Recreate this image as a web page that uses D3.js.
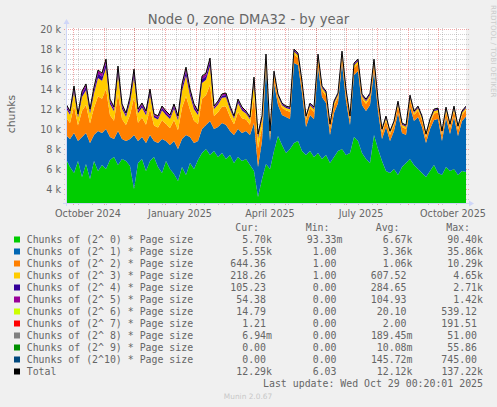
<!DOCTYPE html>
<html>
<head>
<meta charset="utf-8">
<script src="https://cdn.jsdelivr.net/npm/d3@7"></script>
<style>
body { margin: 0; background: #F0F0F0; }
svg text { font-family: "DejaVu Sans", sans-serif; fill: #666666; }
svg text.mono { font-family: "DejaVu Sans Mono", monospace; font-size: 9.9px; white-space: pre; }
</style>
</head>
<body>
<svg width="497" height="407"></svg>
<script>
const firstDay = new Date(2024, 8, 24)
const stepDays = 4
const lastUpdate = "Wed Oct 29 00:20:01 2025"

// one value every 4 days
const order0 = [7000,6200,5600,6800,5200,6500,5000,6800,5800,6400,
    6000,6900,7200,6400,7000,6800,6300,4000,6600,7000,
    5800,6800,7200,6200,5600,6800,
    6000,5500,4800,6200,5400,6600,6000,6900,7600,8000,
    7400,7800,7200,7600,7000,7400,6600,7200,6800,7000,
    6400,5800,3200,5000,
    6500,6000,7800,9300,8400,7600,8000,8600,8800,7800,
    7400,7800,7200,7600,7000,7400,6600,7200,7800,8000,
    7400,7600,9200,8800,7600,7000,
    6600,9400,8000,6800,5800,5600,6000,5400,6200,6600,
    7000,6400,6000,5600,5200,5800,6400,5600,5400,6200,
    5800,6000,5400,5800,5700]
const order1 = [2400,2800,4000,2000,4000,3100,3600,2600,4000,3200,
    4000,2300,1800,3400,2000,2000,2700,5400,2200,2200,
    2800,2600,1600,2400,3400,2000,
    2400,3300,3200,2800,4000,2600,2600,1900,2400,2400,
    3400,2200,3000,3000,3400,2400,2800,2800,2800,2800,
    3000,4800,3000,3800,
    9700,2800,6800,3100,3000,3600,3000,8000,7600,5800,
    2800,3600,3800,8600,6200,5200,2800,4400,4800,8600,
    5400,2800,6200,7000,4800,4800,
    5800,6400,3800,2200,4400,3200,3800,6200,3400,2800,
    5200,4400,5200,4600,3400,4200,4500,5400,3400,4900,
    3700,5200,3900,5000,5550]
const order2 = [1765,1595,2680,1540,2620,2795,1940,2735,3475,3420,
    3990,2165,1825,3705,1995,1595,2395,3760,1825,1940,
    1825,2620,1540,1540,1880,1710,
    1710,2110,1880,3135,3875,2735,2225,1710,3020,2965,
    3590,1310,1480,1655,1825,1425,1085,1710,1480,1140,
    1025,2620,1880,1425,
    780,600,720,660,720,660,720,840,720,720,
    660,720,720,780,660,720,660,720,600,720,
    720,540,720,720,660,720,
    720,720,720,600,660,600,600,720,600,600,
    720,600,660,660,540,600,660,660,600,660,
    600,660,600,600,644]
const order3 = [930,840,1410,810,1380,1470,1020,1440,1830,1800,
    2100,1140,960,1950,1050,840,1260,1980,960,1020,
    960,1380,810,810,990,900,
    900,1110,990,1650,2040,1440,1170,900,1590,1560,
    1890,690,780,870,960,750,570,900,780,600,
    540,1380,990,750,
    290,220,260,240,260,240,260,310,260,260,
    240,260,260,290,240,260,240,260,220,260,
    260,200,260,260,240,260,
    260,260,260,220,240,220,220,260,220,220,
    260,220,240,240,200,220,240,240,220,240,
    220,240,220,220,218]
const order4 = [215,195,330,190,320,345,240,335,425,420,
    490,265,225,455,245,195,295,460,225,240,
    225,320,190,190,230,210,
    210,260,230,385,475,335,275,210,370,365,
    440,160,180,205,225,175,135,210,180,140,
    125,320,230,175,
    140,110,130,120,130,120,130,150,130,130,
    120,130,130,140,120,130,120,130,110,130,
    130,100,130,130,120,130,
    130,130,130,110,120,110,110,130,110,110,
    130,110,120,120,100,110,120,120,110,120,
    110,120,110,110,105]
const order5 = [160,140,240,140,230,250,170,240,310,300,
    350,190,160,330,180,140,210,330,160,170,
    160,230,140,140,170,150,
    150,190,170,280,340,240,200,150,270,260,
    320,120,130,150,160,130,100,150,130,100,
    90,230,170,130,
    65,50,60,55,60,55,60,70,60,60,
    55,60,60,65,55,60,55,60,50,60,
    60,45,60,60,55,60,
    60,60,60,50,55,50,50,60,50,50,
    60,50,55,55,45,50,55,55,50,55,
    50,55,50,50,54]
const order6 = [30,26,40,24,38,42,30,40,50,48,
    55,32,28,52,30,26,36,52,28,30,
    28,38,24,24,28,26,
    26,30,28,44,52,40,32,26,44,42,
    50,20,22,24,26,22,18,26,22,18,
    16,38,28,22,
    18,14,16,15,16,15,16,18,16,16,
    15,16,16,18,15,16,15,16,14,16,
    16,12,16,16,15,16,
    16,16,16,14,15,14,14,16,14,14,
    16,14,15,15,12,14,15,15,14,15,
    14,15,14,14,15]
const order7 = [3,2,4,2,4,4,3,4,5,5,
    6,3,2,5,3,2,3,5,2,3,
    2,4,2,2,3,2,
    2,3,2,4,5,4,3,2,4,4,
    5,2,2,2,3,2,1,2,2,1,
    1,4,3,2,
    1,1,1,1,1,1,1,2,1,1,
    1,1,1,2,1,1,1,1,1,1,
    1,1,1,1,1,1,
    1,1,1,1,1,1,1,1,1,1,
    1,1,1,1,1,1,1,1,1,1,
    1,1,1,1,1]
const order8 = [0,0,0,0,0,0,0,0,0,0, 0,0,0,0,0,0,0,0,0,0, 0,0,0,0,0,0,0,0,0,0,
    0,0,0,0,0,0,0,0,0,0, 0,0,0,0,0,0,0,0,0,0, 0,0,0,0,0,0,0,0,0,0,
    0,0,0,0,0,0,0,0,0,0, 0,0,0,0,0,0,0,0,0,0, 0,0,0,0,0,0,0,0,0,0,
    0,0,0,0,0,0,0,0,0,0, 0]
const order9 = [0,0,0,0,0,0,0,0,0,0, 0,0,0,0,0,0,0,0,0,0, 0,0,0,0,0,0,0,0,0,0,
    0,0,0,0,0,0,0,0,0,0, 0,0,0,0,0,0,0,0,0,0, 0,0,0,0,0,0,0,0,0,0,
    0,0,0,0,0,0,0,0,0,0, 0,0,0,0,0,0,0,0,0,0, 0,0,0,0,0,0,0,0,0,0,
    0,0,0,0,0,0,0,0,0,0, 0]
const order10 = [0,0,0,0,0,0,0,0,0,0, 0,0,0,0,0,0,0,0,0,0, 0,0,0,0,0,0,0,0,0,0,
    0,0,0,0,0,0,0,0,0,0, 0,0,0,0,0,0,0,0,0,0, 0,0,0,0,0,0,0,0,0,0,
    0,0,0,0,0,0,0,0,0,0, 0,0,0,0,0,0,0,0,0,0, 0,0,0,0,0,0,0,0,0,0,
    0,0,0,0,0,0,0,0,0,0, 0]

const seriesNames = ["Chunks of (2^ 0) * Page size", "Chunks of (2^ 1) * Page size",
    "Chunks of (2^ 2) * Page size", "Chunks of (2^ 3) * Page size",
    "Chunks of (2^ 4) * Page size", "Chunks of (2^ 5) * Page size",
    "Chunks of (2^ 6) * Page size", "Chunks of (2^ 7) * Page size",
    "Chunks of (2^ 8) * Page size", "Chunks of (2^ 9) * Page size",
    "Chunks of (2^10) * Page size", "Total"]
const seriesColors = ["#00CC00", "#0066B3", "#FF8000", "#FFCC00", "#330099", "#990099",
    "#CCFF00", "#FF0000", "#808080", "#008F00", "#00487D", "#000000"]
const curText = ["5.70k", "5.55k", "644.36", "218.26", "105.23", "54.38", "14.79", "1.21", "6.94m", "0.00", "0.00", "12.29k"]
const minText = ["93.33m", "1.00", "1.00", "1.00", "0.00", "0.00", "0.00", "0.00", "0.00", "0.00", "0.00", "6.03"]
const avgText = ["6.67k", "3.36k", "1.06k", "607.52", "284.65", "104.93", "20.10", "2.00", "189.45m", "10.08m", "145.72m", "12.12k"]
const maxText = ["90.40k", "35.86k", "10.29k", "4.65k", "2.71k", "1.42k", "539.12", "191.51", "51.00", "55.86", "745.00", "137.22k"]
const yTickValues = [4000, 6000, 8000, 10000, 12000, 14000, 16000, 18000, 20000]

const values = [order0, order1, order2, order3, order4, order5, order6, order7, order8, order9, order10]
const keys = values.map((d, i) => "s" + i)
const table = order0.map((d, i) => {
    const row = {date: d3.timeDay.offset(firstDay, i * stepDays)}
    values.forEach((arr, j) => row["s" + j] = arr[i])
    return row
})
const lastDay = table[table.length - 1].date

const x = d3.scaleTime().domain([firstDay, lastDay]).range([66, 466])
const y = d3.scaleLinear().domain([2600, 20100]).range([203, 28])

const svg = d3.select("svg")

svg.append("defs").append("clipPath")
    .attr("id", "plot")
    .append("rect")
    .attr("x", 67).attr("y", 28).attr("width", 399).attr("height", 175)

svg.append("rect")
    .attr("x", 67).attr("y", 28).attr("width", 399).attr("height", 175)
    .attr("fill", "#FFFFFF")

// grid
const gridG = svg.append("g").attr("shape-rendering", "crispEdges")
const minorY = d3.range(3000, 20001, 500).filter(v => v % 2000 != 0)
gridG.selectAll("line.minorY")
    .data(minorY)
    .enter()
    .append("line")
    .attr("x1", 64).attr("x2", 469)
    .attr("y1", d => Math.round(y(d)) + 0.5)
    .attr("y2", d => Math.round(y(d)) + 0.5)
    .style("stroke", "rgba(120,120,120,0.35)")
    .style("stroke-dasharray", "1,1")

const sundayRef = new Date(2025, 7, 10)
const minorX = d3.timeDay.range(firstDay, lastDay)
    .filter(d => ((d3.timeDay.count(sundayRef, d) % 14) + 14) % 14 == 0)
gridG.selectAll("line.minorX")
    .data(minorX)
    .enter()
    .append("line")
    .attr("y1", 28).attr("y2", 206)
    .attr("x1", d => Math.round(x(d)) + 0.5)
    .attr("x2", d => Math.round(x(d)) + 0.5)
    .style("stroke", "rgba(120,120,120,0.35)")
    .style("stroke-dasharray", "1,1")

gridG.selectAll("line.majorY")
    .data(yTickValues)
    .enter()
    .append("line")
    .attr("x1", 64).attr("x2", 469)
    .attr("y1", d => Math.round(y(d)) + 0.5)
    .attr("y2", d => Math.round(y(d)) + 0.5)
    .style("stroke", "rgba(225,60,60,0.45)")
    .style("stroke-dasharray", "1,1")

const months = d3.timeMonth.range(firstDay, lastDay)
gridG.selectAll("line.majorX")
    .data(months)
    .enter()
    .append("line")
    .attr("y1", 28).attr("y2", 206)
    .attr("x1", d => Math.round(x(d)) + 0.5)
    .attr("x2", d => Math.round(x(d)) + 0.5)
    .style("stroke", "rgba(225,60,60,0.45)")
    .style("stroke-dasharray", "1,1")

const stacked = d3.stack().keys(keys)(table)

const area = d3.area()
    .x(d => x(d.data.date))
    .y0(d => y(d[0]))
    .y1(d => y(d[1]))

const plotG = svg.append("g").attr("clip-path", "url(#plot)")

plotG.selectAll("path.layer")
    .data(stacked)
    .enter()
    .append("path")
    .attr("class", "layer")
    .attr("d", area)
    .attr("fill", (d, i) => seriesColors[i])

// total line on top of the stack
const line = d3.line()
    .x(d => x(d.data.date))
    .y(d => y(d[1]))

plotG.append("path")
    .datum(stacked[stacked.length - 1])
    .attr("d", line)
    .attr("fill", "none")
    .style("stroke", "#000000")
    .style("stroke-width", 1)

// axes with arrows
svg.append("line")
    .attr("x1", 63).attr("x2", 469).attr("y1", 203.5).attr("y2", 203.5)
    .style("stroke", "#CFD6F8")
svg.append("path")
    .attr("d", "M469,200.5L474,203.5L469,206.5Z")
    .attr("fill", "#CFD6F8")
svg.append("line")
    .attr("x1", 66.5).attr("x2", 66.5).attr("y1", 206).attr("y2", 24)
    .style("stroke", "#CFD6F8")
svg.append("path")
    .attr("d", "M63.5,24L66.5,19L69.5,24Z")
    .attr("fill", "#CFD6F8")

svg.selectAll("text.ytick")
    .data(yTickValues)
    .enter()
    .append("text")
    .attr("class", "ytick")
    .attr("x", 61)
    .attr("y", d => Math.round(y(d)) + 3.8)
    .style("text-anchor", "end")
    .style("font-size", "9.6px")
    .text(d => (d / 1000) + " k")

const labelMonths = d3.timeMonth.every(3).range(firstDay, lastDay)
svg.selectAll("text.xtick")
    .data(labelMonths)
    .enter()
    .append("text")
    .attr("class", "xtick")
    .attr("x", d => x(d3.timeDay.offset(d, 15)))
    .attr("y", 216.5)
    .style("text-anchor", "middle")
    .style("font-size", "9.6px")
    .text(d3.timeFormat("%B %Y"))

svg.append("text")
    .attr("x", 248.5)
    .attr("y", 24)
    .style("text-anchor", "middle")
    .style("font-size", "13.2px")
    .text("Node 0, zone DMA32 - by year")

svg.append("text")
    .attr("transform", "translate(15,114) rotate(-90)")
    .style("text-anchor", "middle")
    .style("font-size", "10.8px")
    .text("chunks")

svg.append("text")
    .attr("transform", "translate(491,5) rotate(90)")
    .style("font-size", "7.2px")
    .style("fill", "#CCCCCC")
    .text("RRDTOOL / TOBI OETIKER")

// legend
const colEnd = [272, 342.5, 412.5, 483]
const heads = ["Cur:", "Min:", "Avg:", "Max:"]
svg.selectAll("text.head")
    .data(heads)
    .enter()
    .append("text")
    .attr("class", "mono")
    .attr("x", (d, i) => colEnd[i] - 13)
    .attr("y", 230.8)
    .style("text-anchor", "end")
    .text(d => d)

const legendG = svg.selectAll("g.legend")
    .data(seriesNames)
    .enter()
    .append("g")
    .attr("class", "legend")
    .attr("transform", (d, i) => "translate(0," + (239.5 + i * 12) + ")")

legendG.append("rect")
    .attr("x", 14).attr("y", -3).attr("width", 6).attr("height", 6)
    .attr("fill", (d, i) => seriesColors[i])

legendG.append("text")
    .attr("class", "mono")
    .attr("x", 26.7)
    .attr("y", 3.5)
    .text(d => d)

const columns = [curText, minText, avgText, maxText]
columns.forEach((col, c) => {
    legendG.append("text")
        .attr("class", "mono")
        .attr("x", (d, i) => colEnd[c] - (/[km]$/.test(col[i]) ? 0 : 6))
        .attr("y", 3.5)
        .style("text-anchor", "end")
        .text((d, i) => col[i])
})

svg.append("text")
    .attr("class", "mono")
    .attr("x", 483)
    .attr("y", 386.8)
    .style("text-anchor", "end")
    .text("Last update: " + lastUpdate)

svg.append("text")
    .attr("x", 248)
    .attr("y", 398.8)
    .style("text-anchor", "middle")
    .style("font-size", "7.4px")
    .style("fill", "#C8C8C8")
    .text("Munin 2.0.67")
</script>
</body>
</html>
